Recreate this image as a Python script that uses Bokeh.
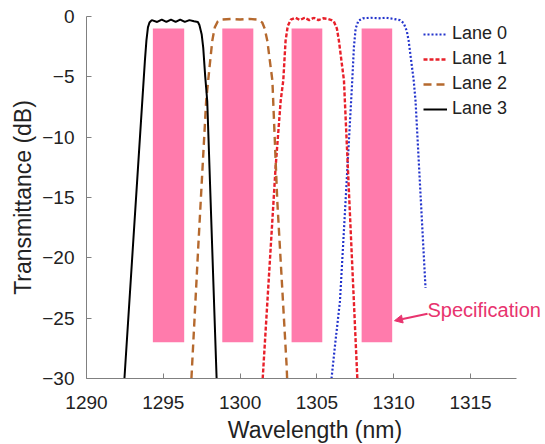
from bokeh.plotting import figure
from bokeh.models import Range1d, FixedTicker, Legend, LegendItem, Label, Arrow, NormalHead
from bokeh.embed import file_html
from bokeh.resources import INLINE

# ---------------- data ----------------
lane3_x = [1292.47, 1293.00, 1293.50, 1293.80, 1293.90, 1294.00, 1294.10, 1294.25,
           1294.60, 1294.90, 1295.20, 1295.50, 1295.80, 1296.10, 1296.40, 1296.70,
           1297.00, 1297.25, 1297.35, 1297.50, 1297.60, 1297.73, 1297.86, 1298.47]
lane3_y = [-30.0, -19.5, -9.6, -3.7, -2.0, -0.9, -0.5, -0.3,
           -0.45, -0.25, -0.45, -0.25, -0.45, -0.25, -0.45, -0.3,
           -0.4, -0.45, -0.7, -1.5, -2.6, -5.0, -7.0, -30.0]

lane2_x = [1296.83, 1297.30, 1297.79, 1298.00, 1298.19, 1298.35, 1298.55, 1298.80,
           1299.40, 1300.00, 1300.60, 1301.10, 1301.44, 1301.60, 1301.77, 1302.10,
           1302.42, 1303.03, 1303.06]
lane2_y = [-30.0, -18.5, -7.0, -4.3, -2.0, -0.9, -0.4, -0.25,
           -0.2, -0.25, -0.2, -0.25, -0.5, -1.0, -2.0, -5.3,
           -15.3, -29.0, -30.0]

lane1_x = [1301.47, 1302.31, 1302.64, 1302.81, 1302.96, 1303.10, 1303.30, 1303.60,
           1303.90, 1304.20, 1304.50, 1304.80, 1305.10, 1305.40, 1305.70, 1305.95,
           1306.10, 1306.30, 1306.43, 1306.76, 1307.63]
lane1_y = [-30.0, -12.5, -7.0, -5.3, -2.0, -0.8, -0.25, -0.1,
           -0.3, -0.1, -0.3, -0.1, -0.3, -0.15, -0.2, -0.3,
           -0.4, -1.0, -2.0, -5.3, -30.0]

lane0_x = [1305.95, 1306.20, 1306.50, 1306.90, 1307.30, 1307.41, 1307.52, 1307.70,
           1308.00, 1308.50, 1309.00, 1309.50, 1310.00, 1310.40, 1310.65, 1310.85,
           1310.97, 1311.30, 1311.42, 1312.07]
lane0_y = [-30.0, -27.0, -23.6, -14.5, -5.3, -2.5, -1.0, -0.35,
           -0.15, -0.1, -0.15, -0.1, -0.2, -0.3, -0.55, -1.2,
           -2.0, -5.3, -7.0, -22.5]

spec_left = [1294.32, 1298.84, 1303.35, 1307.91]
spec_right = [1296.36, 1300.86, 1305.35, 1309.90]
spec_top = [-1.0, -1.0, -1.0, -1.0]
spec_bottom = [-27.0, -27.0, -27.0, -27.0]

x_ticks = [1290, 1295, 1300, 1305, 1310, 1315]
y_ticks = [0, -5, -10, -15, -20, -25, -30]
x_axis_bounds = (1290, 1318)

spec_text = "Specification"
spec_label_pos = (1312.2, -24.35)
spec_arrow = (1312.2, -24.63, 1310.05, -25.21)

FONT = "Liberation Sans"
PINK = "#FF7BAC"
SPEC_COLOR = "#E8336E"

p = figure(frame_width=457, frame_height=362, output_backend="svg", toolbar_location=None,
           x_range=Range1d(1290, 1319.75), y_range=Range1d(-30, 0),
           min_border_left=86, min_border_right=2, min_border_top=16, min_border_bottom=66)
p.outline_line_color = None
p.xgrid.visible = False
p.ygrid.visible = False
p.background_fill_color = "white"
p.border_fill_color = "white"

p.quad(left=spec_left, right=spec_right, top=spec_top, bottom=spec_bottom,
       fill_color=PINK, line_color=None)

r0 = p.line(lane0_x, lane0_y, line_color="#2233CC", line_width=2.2, line_dash="2 2")
r1 = p.line(lane1_x, lane1_y, line_color="#E8202A", line_width=2.4, line_dash="4 2")
r2 = p.line(lane2_x, lane2_y, line_color="#B5692E", line_width=2.4, line_dash="8 5")
r3 = p.line(lane3_x, lane3_y, line_color="black", line_width=2.0)

legend = Legend(items=[LegendItem(label="Lane 0", renderers=[r0]),
                       LegendItem(label="Lane 1", renderers=[r1]),
                       LegendItem(label="Lane 2", renderers=[r2]),
                       LegendItem(label="Lane 3", renderers=[r3])],
                location=(337, 259), padding=0, margin=0, spacing=4,
                glyph_width=24, glyph_height=20, label_height=20, label_standoff=5,
                label_text_font=FONT, label_text_font_size="18px", label_text_color="#222222",
                border_line_alpha=0, background_fill_alpha=0)
p.add_layout(legend, "center")

for ax in (p.xaxis[0], p.yaxis[0]):
    ax.axis_line_color = "#808080"
    ax.major_tick_line_color = "#808080"
    ax.major_tick_in = 5
    ax.major_tick_out = 0
    ax.minor_tick_line_color = None
    ax.major_label_text_font = FONT
    ax.major_label_text_font_size = "19px"
    ax.major_label_text_color = "#222222"
    ax.axis_label_text_font = FONT
    ax.axis_label_text_font_style = "normal"
    ax.axis_label_text_color = "#222222"

p.xaxis.ticker = FixedTicker(ticks=x_ticks)
p.yaxis.ticker = FixedTicker(ticks=y_ticks)
p.xaxis.bounds = x_axis_bounds
p.xaxis.axis_label = "Wavelength (nm)"
p.yaxis.axis_label = "Transmittance (dB)"
p.xaxis.axis_label_text_font_size = "23px"
p.yaxis.axis_label_text_font_size = "23px"
p.xaxis.major_label_standoff = 17
p.yaxis.major_label_standoff = 12
p.xaxis.axis_label_standoff = 5
p.yaxis.axis_label_standoff = 3

p.add_layout(Arrow(end=NormalHead(size=8, fill_color=SPEC_COLOR, line_color=SPEC_COLOR),
                   x_start=spec_arrow[0], y_start=spec_arrow[1],
                   x_end=spec_arrow[2], y_end=spec_arrow[3],
                   line_color=SPEC_COLOR, line_width=2))
p.add_layout(Label(x=spec_label_pos[0], y=spec_label_pos[1], text=spec_text,
                   text_baseline="middle", text_font=FONT, text_font_size="20px",
                   text_color=SPEC_COLOR))

open("out.html", "w").write(file_html(p, INLINE))
